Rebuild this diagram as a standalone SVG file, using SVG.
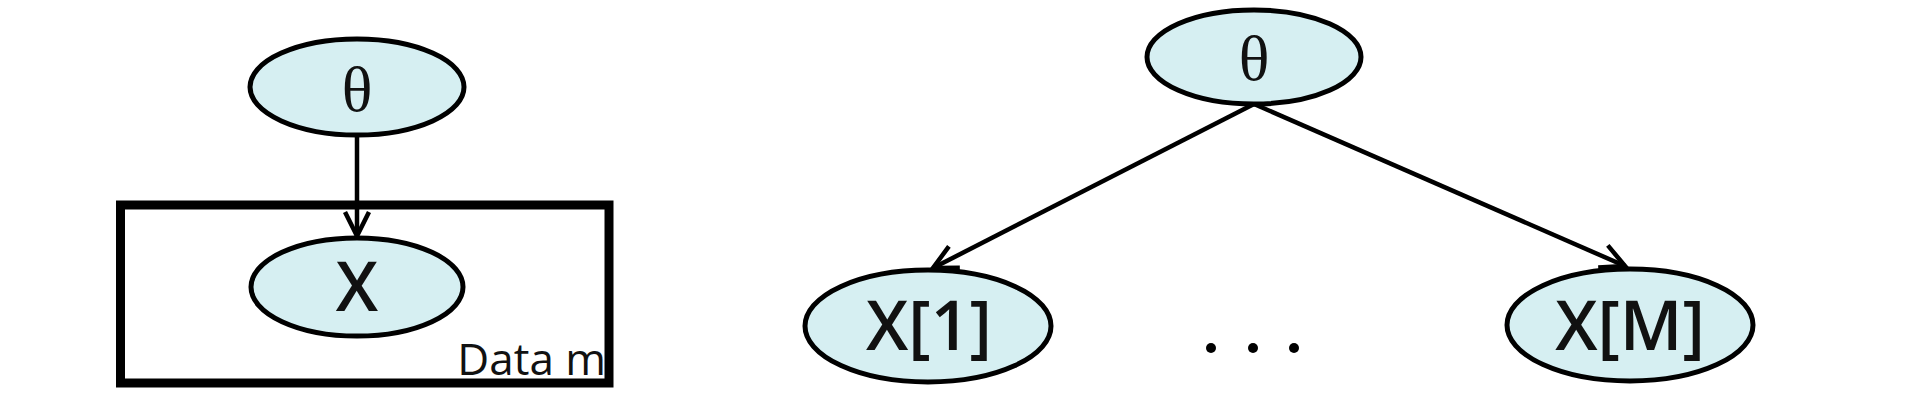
<svg xmlns="http://www.w3.org/2000/svg" width="1928" height="412" viewBox="0 0 1928 412">
  <style>
    .node { fill: #d6eff2; stroke: #000; stroke-width: 5; }
    .edge { fill: none; stroke: #000; stroke-width: 4.5; }
    .theta { font-family: "Liberation Serif", "DejaVu Serif", serif; font-size: 64px; fill: #111; text-anchor: middle; }
    .var { font-family: "Open Sans", "Liberation Sans", sans-serif; font-size: 68px; font-weight: 600; fill: #111; text-anchor: middle; }
    .plate { fill: none; stroke: #000; stroke-width: 9; }
    .plabel { font-family: "Open Sans", "Liberation Sans", sans-serif; font-size: 44px; fill: #111; text-anchor: end; }
  </style>
  <defs>
    <marker id="arrow" markerUnits="userSpaceOnUse" markerWidth="30" markerHeight="30" refX="0" refY="0" orient="auto" overflow="visible">
      <path d="M -24 -12 L 0 0 L -24 12" fill="none" stroke="#000" stroke-width="4.5" stroke-linejoin="miter"/>
    </marker>
  </defs>
  <rect width="1928" height="412" fill="#fff"/>

  <g id="plate">
    <rect class="plate" x="120.5" y="205" width="488.5" height="178"/>
    <text class="plabel" x="606" y="375">Data m</text>
  </g>

  <g id="connectors">
    <line class="edge" x1="357" y1="135" x2="357" y2="236" marker-end="url(#arrow)"/>
    <line class="edge" x1="1254" y1="104" x2="933" y2="268" marker-end="url(#arrow)"/>
    <line class="edge" x1="1254" y1="104" x2="1625" y2="266" marker-end="url(#arrow)"/>
  </g>

  <g id="theta-left">
    <ellipse class="node" cx="357" cy="87" rx="107" ry="48"/>
    <text class="theta" x="357" y="111">θ</text>
  </g>

  <g id="x-left">
    <ellipse class="node" cx="357" cy="287" rx="106" ry="49"/>
    <text class="var" x="357" y="311">X</text>
  </g>

  <g id="theta-right">
    <ellipse class="node" cx="1254" cy="57" rx="107" ry="47"/>
    <text class="theta" x="1254" y="80">θ</text>
  </g>

  <g id="x1">
    <ellipse class="node" cx="928" cy="326" rx="123" ry="56"/>
    <text class="var" x="929" y="350">X[1]</text>
  </g>

  <g id="xM">
    <ellipse class="node" cx="1630" cy="325" rx="123" ry="56"/>
    <text class="var" x="1630" y="350">X[M]</text>
  </g>

  <g id="dots">
    <circle cx="1211" cy="348" r="5" fill="#000"/>
    <circle cx="1253" cy="348" r="5" fill="#000"/>
    <circle cx="1294" cy="348" r="5" fill="#000"/>
  </g>
</svg>
